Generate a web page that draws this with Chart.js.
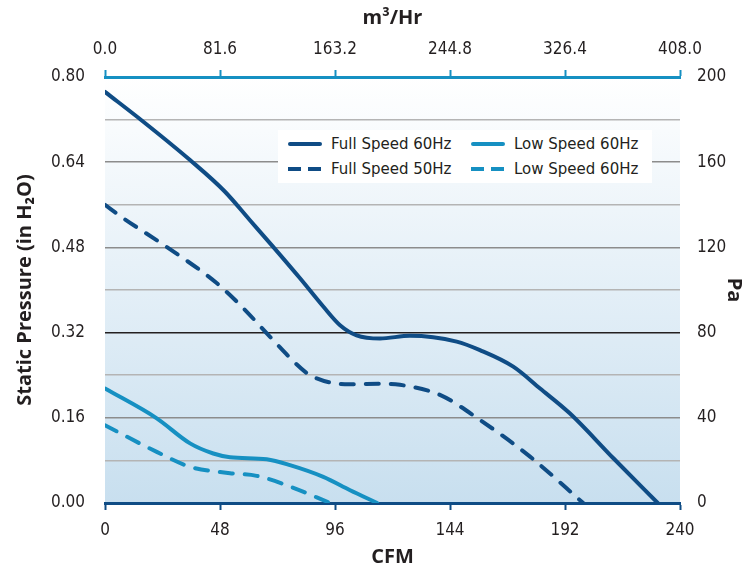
<!DOCTYPE html>
<html>
<head>
<meta charset="utf-8">
<script src="https://cdn.jsdelivr.net/npm/chart.js@4.4.1/dist/chart.umd.min.js"></script>
<style>
  html, body { margin: 0; padding: 0; background: #fff; }
  #wrap { position: relative; width: 754px; height: 572px; }
  canvas { display: block; }
  .legend { position: absolute; left: 278px; top: 130px; width: 374px; height: 53px; background: #fff;
            font-family: "DejaVu Sans", sans-serif; font-size: 15px; color: #231f20; }
  .item { position: absolute; height: 20px; display: flex; align-items: center; white-space: nowrap; }
  .sw { width: 34px; height: 4px; margin-right: 9px; border-radius: 2px; }
  .sw.dash { border-radius: 0; }
</style>
</head>
<body>
<div id="wrap">
  <canvas id="fan" width="754" height="572"></canvas>
  <div class="legend" id="legend"></div>
</div>
<script>
(() => {
  // --- data (CFM vs static pressure, in H2O) ---
  const full60X = [0, 16.0, 35.5, 50.0, 60.5, 70.2, 81.4, 91.1, 98.1, 105.0, 114.8, 127.3, 146.8, 156.5, 170.4, 181.6, 194.1, 212.2, 230.7];
  const full60Y = [0.772, 0.716, 0.644, 0.585, 0.531, 0.481, 0.422, 0.369, 0.334, 0.315, 0.309, 0.314, 0.303, 0.287, 0.256, 0.215, 0.168, 0.084, 0];

  const full50X = [0, 7.6, 25.7, 46.6, 57.7, 68.9, 84.2, 88.4, 95.3, 102.3, 116.2, 123.1, 139.8, 156.5, 177.4, 199.6];
  const full50Y = [0.560, 0.535, 0.481, 0.413, 0.366, 0.312, 0.244, 0.234, 0.225, 0.223, 0.224, 0.222, 0.203, 0.156, 0.087, 0];

  const low60X = [0, 21.6, 35.5, 45.2, 52.2, 67.5, 77.2, 91.1, 102.3, 113.6];
  const low60Y = [0.215, 0.159, 0.112, 0.093, 0.086, 0.082, 0.071, 0.049, 0.024, 0];

  const low50X = [0, 21.6, 35.5, 52.2, 63.3, 77.2, 94.0];
  const low50Y = [0.146, 0.096, 0.068, 0.056, 0.051, 0.031, 0];

  const seriesNames = ['Full Speed 60Hz', 'Full Speed 50Hz', 'Low Speed 60Hz', 'Low Speed 60Hz'];

  // --- axis ticks ---
  const cfmTicks = [0, 48, 96, 144, 192, 240];
  const m3hrTicks = [0, 81.6, 163.2, 244.8, 326.4, 408];
  const inH2OTicks = [0, 0.08, 0.16, 0.24, 0.32, 0.40, 0.48, 0.56, 0.64, 0.72, 0.80];
  const paTicks = [0, 40, 80, 120, 160, 200];

  const DARK = '#0f4c85';
  const LIGHT = '#1690c2';
  const TXT = '#231f20';

  const pts = (xs, ys) => xs.map((x, i) => ({ x, y: ys[i] }));
  const setTicks = arr => scale => { scale.ticks = arr.map(v => ({ value: v })); };
  const fix = (prop, n) => scale => { scale[prop] = n; };

  const tickFont = { family: '"DejaVu Sans Condensed", "DejaVu Sans", sans-serif', size: 17 };
  const titleFont = { family: '"Open Sans", "DejaVu Sans", sans-serif', size: 20, weight: 'bold' };

  const bgGradient = {
    id: 'bgGradient',
    beforeDraw(chart) {
      const { ctx, chartArea: { left, right, top, bottom } } = chart;
      const g = ctx.createLinearGradient(0, top, 0, bottom);
      g.addColorStop(0, '#ffffff');
      g.addColorStop(1, '#c8dfef');
      ctx.save();
      ctx.fillStyle = g;
      ctx.fillRect(left, top, right - left, bottom - top);
      ctx.restore();
    }
  };

  const line = (label, data, color, dashed) => ({
    label, data,
    borderColor: color, backgroundColor: color,
    borderWidth: 4, pointRadius: 0, fill: false,
    cubicInterpolationMode: 'monotone',
    borderDash: dashed ? [13, 12] : [],
    borderCapStyle: 'round', borderJoinStyle: 'round'
  });

  const datasets = [
    line(seriesNames[0], pts(full60X, full60Y), DARK, false),
    line(seriesNames[1], pts(full50X, full50Y), DARK, true),
    line(seriesNames[2], pts(low60X, low60Y), LIGHT, false),
    line(seriesNames[3], pts(low50X, low50Y), LIGHT, true)
  ];

  new Chart(document.getElementById('fan'), {
    type: 'line',
    data: { datasets },
    plugins: [bgGradient],
    options: {
      responsive: false,
      animation: false,
      layout: { padding: 0 },
      plugins: { legend: { display: false }, tooltip: { enabled: false } },
      scales: {
        x: {
          type: 'linear', position: 'bottom', min: 0, max: 240,
          afterBuildTicks: setTicks(cfmTicks), afterFit: fix('height', 69),
          ticks: { font: tickFont, color: TXT, padding: 10, callback: v => String(v) },
          grid: { drawOnChartArea: false, drawTicks: true, tickLength: 7, tickWidth: 2, tickColor: DARK },
          border: { display: true, color: DARK, width: 3 },
          title: { display: true, text: 'CFM', font: titleFont, color: TXT, padding: { bottom: 3 } }
        },
        x2: {
          type: 'linear', position: 'top', min: 0, max: 408,
          afterBuildTicks: setTicks(m3hrTicks), afterFit: fix('height', 77),
          ticks: { font: tickFont, color: TXT, padding: 10, callback: v => v.toFixed(1) },
          grid: { drawOnChartArea: false, drawTicks: true, tickLength: 7, tickWidth: 2, tickColor: LIGHT },
          border: { display: true, color: LIGHT, width: 3 },
          title: { display: true, text: 'm³/Hr', font: titleFont, color: TXT, padding: { top: 6 } }
        },
        y: {
          type: 'linear', position: 'left', min: 0, max: 0.8,
          afterBuildTicks: setTicks(inH2OTicks), afterFit: fix('width', 105),
          ticks: { font: tickFont, color: TXT, padding: 20,
                   callback: (v, i) => (i % 2 === 0 ? v.toFixed(2) : '') },
          grid: {
            drawTicks: false, lineWidth: 1.5,
            color: c => {
              const i = c.index;
              if (i === 4) return '#231f20';
              return i % 2 === 0 ? '#8c8c8c' : '#b4b4b4';
            }
          },
          border: { display: false },
          title: { display: true, text: 'Static Pressure (in H₂O)', font: titleFont, color: TXT, padding: { top: 13 } }
        },
        y2: {
          type: 'linear', position: 'right', min: 0, max: 200,
          afterBuildTicks: setTicks(paTicks), afterFit: fix('width', 74),
          ticks: { font: tickFont, color: TXT, padding: 17, callback: v => String(v) },
          grid: { display: false, drawTicks: false },
          border: { display: false },
          title: { display: true, text: 'Pa', font: titleFont, color: TXT, padding: { top: 8 } }
        }
      }
    }
  });

  // legend in the plot area, two columns
  const legendEl = document.getElementById('legend');
  const spots = [[10, 4], [10, 29], [193, 4], [193, 29]];
  legendEl.innerHTML = datasets.map((d, i) => {
    const c = d.borderColor;
    const bg = d.borderDash.length
      ? `background:repeating-linear-gradient(to right, ${c} 0 13px, transparent 13px 20px);`
      : `background:${c};`;
    return `<div class="item" style="left:${spots[i][0]}px;top:${spots[i][1]}px">
      <span class="sw${d.borderDash.length ? ' dash' : ''}" style="${bg}"></span>${d.label}</div>`;
  }).join('');
})();
</script>
</body>
</html>
